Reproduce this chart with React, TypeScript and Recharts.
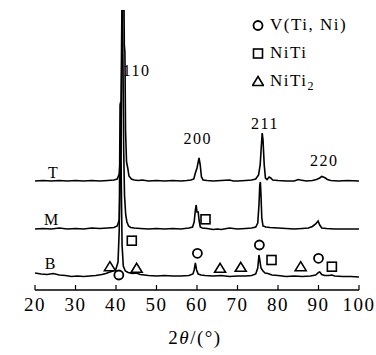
import { ComposedChart, Line, Scatter, XAxis, YAxis, Label } from "recharts";

// the page only has the default 8px body margin; drop it so the chart fills the window
if (typeof document !== "undefined") document.body.style.margin = "0";

const FONT = "'Liberation Serif', 'Times New Roman', serif";

const TWO_THETA_TICKS = [20, 30, 40, 50, 60, 70, 80, 90, 100];

// XRD scans, [2theta, intensity] (already stacked)
const scanT: [number, number][] = [
  [20, 109], [22, 109.5], [24, 109], [26, 109.5], [28, 109], [30, 109.5], [32, 109], [34, 109.5],
  [36, 109], [38, 109.5], [39.5, 110], [40.3, 111], [40.8, 116], [41.2, 140], [41.5, 250],
  [41.7, 330], [41.9, 330], [42.05, 245], [42.2, 238], [42.35, 160], [42.6, 128], [42.9, 122],
  [43.2, 114], [43.8, 111], [44.5, 110], [45.5, 109.5], [46.5, 110], [48, 109], [50, 109.5],
  [52, 109], [54, 109.5], [56, 109], [57.5, 109.5], [58.5, 110], [59.2, 111], [59.6, 117],
  [60.0, 122], [60.3, 128], [60.5, 132], [60.8, 125], [61.1, 113], [61.5, 110], [62.5, 109.5],
  [64, 109], [66, 109.5], [68, 110], [69, 109], [70, 109], [72, 109.5], [73.5, 110], [74.5, 111],
  [75.2, 115], [75.6, 125], [75.9, 145], [76.1, 157], [76.3, 150], [76.6, 125], [76.9, 112],
  [77.3, 110.5], [77.8, 113], [78.2, 112], [78.7, 110], [80, 109.5], [82, 109], [84, 109],
  [85, 110.5], [85.5, 110], [87, 109], [88.5, 109.5], [89.5, 110.5], [90.3, 112], [90.8, 113.5],
  [91.5, 112.5], [92.2, 110.5], [93, 109.5], [95, 109], [97, 109.5], [100, 109],
];

const scanM: [number, number][] = [
  [20, 61], [22, 61.5], [24, 61], [26, 62], [28, 61], [30, 61.5], [32, 61], [34, 62], [36, 61.5],
  [38, 62], [39.5, 62.5], [40.3, 64], [40.8, 70], [41.1, 120], [41.3, 210], [41.5, 300],
  [41.7, 240], [41.9, 140], [42.1, 95], [42.4, 75], [42.7, 68], [43.1, 64], [43.6, 62.5],
  [44.5, 62], [46, 61.5], [48, 61], [50, 61.5], [52, 61], [54, 61.5], [56, 61], [58, 62],
  [58.9, 63], [59.3, 68], [59.6, 80], [59.8, 85], [60.0, 78], [60.3, 78], [60.5, 70], [60.8, 63],
  [61.3, 62], [62.5, 61.5], [64, 60.5], [65, 61], [66, 60.5], [68, 62], [70, 61], [72, 61.5],
  [73.5, 62], [74.5, 63], [75, 67], [75.3, 85], [75.5, 105], [75.65, 108], [75.8, 95], [76.0, 72],
  [76.3, 64], [77, 63], [78, 62.5], [80, 62], [82, 61.5], [84, 61], [86, 61.5], [87.5, 62],
  [88.5, 63.5], [89.3, 66], [89.9, 69], [90.3, 65], [90.8, 62], [92, 61.5], [94, 61], [96, 61],
  [98, 61], [100, 61],
];

const scanB: [number, number][] = [
  [20, 17], [21.5, 16], [23, 15.5], [24.5, 16.5], [26, 15], [27.5, 14.5], [29, 13.5], [30.5, 14],
  [32, 13.5], [33.5, 14], [35, 14.5], [36.5, 15.5], [37.5, 16.5], [38.5, 18], [39.3, 19],
  [40.0, 21], [40.5, 28], [40.8, 60], [41.0, 185], [41.15, 188], [41.3, 110], [41.5, 45],
  [41.8, 24], [42.3, 19], [43, 17.5], [44, 16.5], [45, 17], [46, 15.5], [48, 14.5], [50, 14],
  [52, 14.5], [54, 14], [56, 14], [58, 14.5], [59, 16], [59.3, 20], [59.6, 27], [59.9, 20],
  [60.3, 16], [61, 15], [62, 14.5], [64, 14], [66, 14.5], [68, 13.5], [70, 14], [72, 14],
  [73.5, 14.5], [74.5, 16], [75.0, 22], [75.3, 35], [75.5, 30], [75.8, 22], [76.3, 19],
  [76.8, 17], [77.5, 16.5], [78.5, 15], [80, 14.5], [82, 13.5], [84, 14], [86, 13.5], [88, 14],
  [89.3, 15], [90.0, 17.5], [90.3, 18], [90.8, 15.5], [91.5, 14.5], [92.5, 14.5], [93.3, 15],
  [94, 14], [96, 13.5], [98, 13.5], [100, 13],
];

// phase markers
const vTiNi: [number, number][] = [[40.7, 15], [60.1, 36.7], [75.4, 45], [90.0, 31.7]];
const niTi: [number, number][] = [[43.9, 49.3], [62.1, 70.7], [78.4, 30], [93.3, 23.3]];
const niTi2: [number, number][] = [[38.5, 23.3], [45.1, 21.7], [65.7, 21.7], [70.8, 22.7], [85.6, 23.3]];

const peakLabels = [
  { x: 45.1, y: 220, text: "110" },
  { x: 60.2, y: 152, text: "200" },
  { x: 76.8, y: 167, text: "211" },
  { x: 91.4, y: 130, text: "220" },
];

const sampleLabels = [
  { x: 24.4, y: 118, text: "T" },
  { x: 24.0, y: 71, text: "M" },
  { x: 23.7, y: 27, text: "B" },
];

const legendItems = [
  { kind: "circle", name: "V(Ti, Ni)", sub: "" },
  { kind: "square", name: "NiTi", sub: "" },
  { kind: "triangle", name: "NiTi", sub: "2" },
];

const toPoints = (arr: [number, number][]) => arr.map(([x, y]) => ({ x, y }));

const markerShape = (kind: string) => (props: any) => {
  const { cx, cy } = props;
  if (cx == null || cy == null) return <g />;
  if (kind === "circle")
    return <circle cx={cx} cy={cy} r={4.5} fill="#fff" stroke="#000" strokeWidth={1.8} />;
  if (kind === "square")
    return <rect x={cx - 4.5} y={cy - 4.5} width={9} height={9} fill="#fff" stroke="#000" strokeWidth={1.6} />;
  return (
    <polygon
      points={`${cx},${cy - 5} ${cx + 5.5},${cy + 4} ${cx - 5.5},${cy + 4}`}
      fill="#fff"
      stroke="#000"
      strokeWidth={1.6}
    />
  );
};

const textShape = (size: number, spacing: number) => (props: any) => {
  const { cx, cy, payload } = props;
  return (
    <text
      x={cx}
      y={cy}
      textAnchor="middle"
      dominantBaseline="central"
      fontFamily={FONT}
      fontSize={size}
      letterSpacing={spacing}
      fill="#000"
    >
      {payload.text}
    </text>
  );
};

const LegendBox = () => (
  <div
    style={{
      position: "absolute",
      left: 252,
      top: 11,
      fontFamily: FONT,
      fontSize: 17,
      letterSpacing: 1.5,
      color: "#000",
      lineHeight: "28px",
    }}
  >
    {legendItems.map((item, i) => (
      <div key={i} style={{ display: "flex", alignItems: "center", height: 28 }}>
        <svg width={12} height={12} style={{ marginRight: 6 }}>
          {markerShape(item.kind)({ cx: 6, cy: 6.5 })}
        </svg>
        <span>
          {item.name}
          {item.sub && <sub style={{ fontSize: 12, lineHeight: 0 }}>{item.sub}</sub>}
        </span>
      </div>
    ))}
  </div>
);

const XTitle = (props: any) => {
  const { x, y, width } = props.viewBox;
  return (
    <text x={x + width / 2 - 2} y={y + 54} textAnchor="middle" fontFamily={FONT} fontSize={19} letterSpacing={1.5} fill="#000">
      2<tspan fontStyle="italic">θ</tspan>/(°)
    </text>
  );
};

const YTitle = (props: any) => {
  const { x, y } = props.viewBox;
  const tx = x - 18;
  const ty = y + 162;
  return (
    <text
      x={tx}
      y={ty}
      transform={`rotate(-90, ${tx}, ${ty})`}
      textAnchor="middle"
      dominantBaseline="central"
      fontFamily={FONT}
      fontSize={19}
      fill="#000"
    >
      Intensity/a.u.
    </text>
  );
};

const axisLine = { stroke: "#000", strokeWidth: 1.5 };

export default function App() {
  return (
    <div style={{ position: "relative", width: 376, height: 355 }}>
      <ComposedChart width={376} height={355} margin={{ top: 10, right: 17, left: 35, bottom: 0 }}>
        <XAxis
          dataKey="x"
          type="number"
          domain={[20, 100]}
          ticks={TWO_THETA_TICKS}
          interval={0}
          allowDataOverflow
          height={65}
          tickSize={-5}
          tickMargin={13}
          axisLine={axisLine}
          tickLine={{ stroke: "#000", strokeWidth: 1.2 }}
          tick={{ fontSize: 19, fontFamily: FONT, fill: "#000", letterSpacing: 1.5 }}
        >
          <Label content={<XTitle />} />
        </XAxis>
        <XAxis xAxisId="top" orientation="top" type="number" domain={[20, 100]} height={0} tick={false} tickLine={false} axisLine={axisLine} />
        <YAxis type="number" domain={[0, 280]} allowDataOverflow width={0} tick={false} tickLine={false} axisLine={axisLine}>
          <Label content={<YTitle />} />
        </YAxis>
        <YAxis yAxisId="r" orientation="right" type="number" domain={[0, 280]} width={0} tick={false} tickLine={false} axisLine={axisLine} />

        <Line data={toPoints(scanT)} dataKey="y" stroke="#000" strokeWidth={1.6} dot={false} type="linear" legendType="none" isAnimationActive={false} />
        <Line data={toPoints(scanM)} dataKey="y" stroke="#000" strokeWidth={1.6} dot={false} type="linear" legendType="none" isAnimationActive={false} />
        <Line data={toPoints(scanB)} dataKey="y" stroke="#000" strokeWidth={1.6} dot={false} type="linear" legendType="none" isAnimationActive={false} />

        <Scatter name="V(Ti, Ni)" data={toPoints(vTiNi)} dataKey="y" shape={markerShape("circle")} isAnimationActive={false} />
        <Scatter name="NiTi" data={toPoints(niTi)} dataKey="y" shape={markerShape("square")} isAnimationActive={false} />
        <Scatter name="NiTi2" data={toPoints(niTi2)} dataKey="y" shape={markerShape("triangle")} isAnimationActive={false} />

        <Scatter data={peakLabels} dataKey="y" shape={textShape(16, 1.5)} legendType="none" isAnimationActive={false} />
        <Scatter data={sampleLabels} dataKey="y" shape={textShape(16, 0)} legendType="none" isAnimationActive={false} />
      </ComposedChart>
      <LegendBox />
    </div>
  );
}
